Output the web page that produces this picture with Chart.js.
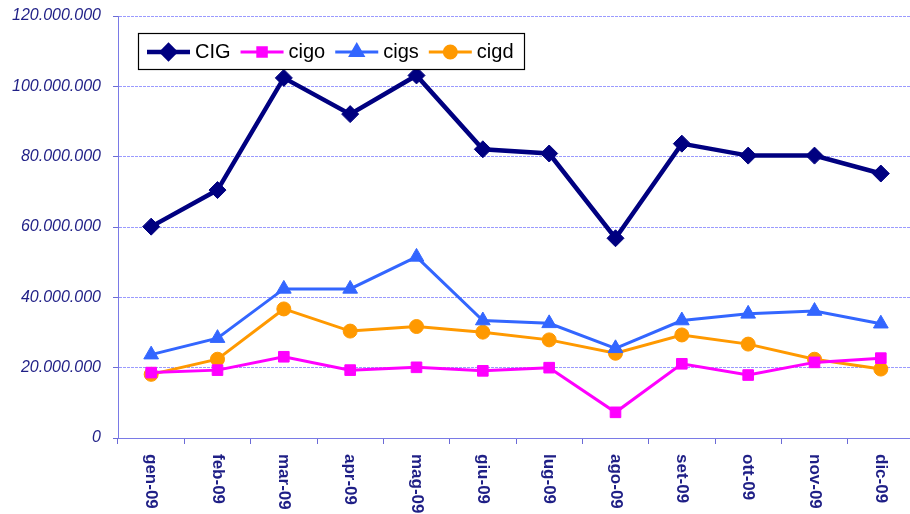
<!DOCTYPE html>
<html>
<head>
<meta charset="utf-8">
<script src="https://cdn.jsdelivr.net/npm/chart.js@4.4.1/dist/chart.umd.min.js"></script>
<style>
  html, body { margin: 0; padding: 0; background: #fff; overflow: hidden; }
  #wrap { position: relative; width: 914px; height: 514px; }
</style>
</head>
<body>
<div id="wrap"><canvas id="c" width="914" height="514"></canvas></div>
<script>
const categories = ['gen-09','feb-09','mar-09','apr-09','mag-09','giu-09','lug-09','ago-09','set-09','ott-09','nov-09','dic-09'];
const seriesNames = ['CIG','cigo','cigs','cigd'];
const CIG  = [60100000, 70500000, 102400000, 92100000, 103100000, 82100000, 80900000, 56800000, 83700000, 80300000, 80300000, 75200000];
const cigo = [18600000, 19300000, 23100000, 19300000, 20100000, 19100000, 20000000, 7300000, 21100000, 17900000, 21500000, 22700000];
const cigs = [23700000, 28400000, 42400000, 42400000, 51500000, 33400000, 32600000, 25500000, 33400000, 35300000, 36100000, 32500000];
const cigd = [18100000, 22400000, 36700000, 30400000, 31700000, 30100000, 27900000, 24100000, 29300000, 26700000, 22400000, 19600000];
const yTicks = [0, 20000000, 40000000, 60000000, 80000000, 100000000, 120000000];

const NAVY = '#1f1f86';
function fmt(v){ return String(v).replace(/\B(?=(\d{3})+(?!\d))/g, '.'); }

const legendPlugin = {
  id: 'boxLegend',
  afterDraw(chart) {
    const ctx = chart.ctx;
    const x0 = 138, y0 = 33, w = 386, h = 36;
    ctx.save();
    ctx.fillStyle = '#fff';
    ctx.fillRect(x0, y0, w, h);
    ctx.strokeStyle = '#000';
    ctx.lineWidth = 1.2;
    ctx.strokeRect(x0 + 0.5, y0 + 0.5, w, h);
    ctx.font = '20px "Liberation Sans", Arial, sans-serif';
    ctx.textBaseline = 'middle';
    const cy = y0 + h / 2 + 1;
    let x = x0 + 9;
    chart.data.datasets.forEach(ds => {
      ctx.strokeStyle = ds.borderColor;
      ctx.lineWidth = ds.borderWidth;
      ctx.beginPath();
      ctx.moveTo(x, cy);
      ctx.lineTo(x + 43, cy);
      ctx.stroke();
      ctx.fillStyle = ds.pointBackgroundColor;
      ctx.strokeStyle = ds.pointBorderColor;
      Chart.helpers.drawPoint(ctx, {pointStyle: ds.pointStyle, radius: ds.legendRadius, borderWidth: 1}, x + 21.5, cy);
      ctx.fillStyle = '#000';
      ctx.textAlign = 'left';
      ctx.fillText(ds.label, x + 48, cy);
      x += 48 + ctx.measureText(ds.label).width + 10;
    });
    ctx.restore();
  }
};

const xLabelPlugin = {
  id: 'xLabels',
  afterDraw(chart) {
    const ctx = chart.ctx;
    const sx = chart.scales.x;
    ctx.save();
    ctx.font = 'bold 17px "Liberation Sans", Arial, sans-serif';
    ctx.fillStyle = NAVY;
    ctx.textAlign = 'left';
    ctx.textBaseline = 'middle';
    categories.forEach((lab, i) => {
      const px = sx.getPixelForValue(i);
      ctx.save();
      ctx.translate(px, sx.top + 16);
      ctx.rotate(Math.PI / 2);
      ctx.fillText(lab, 0, 0);
      ctx.restore();
    });
    ctx.restore();
  }
};

function mk(label, data, color, style, radius, lw, legendRadius) {
  return {
    label, data,
    borderColor: color,
    backgroundColor: color,
    pointBackgroundColor: color,
    pointBorderColor: color,
    pointStyle: style,
    pointRadius: radius,
    pointHoverRadius: radius,
    pointBorderWidth: 1,
    borderWidth: lw,
    legendRadius,
    tension: 0,
    fill: false
  };
}

new Chart(document.getElementById('c'), {
  type: 'line',
  data: {
    labels: categories,
    datasets: [
      mk(seriesNames[0], CIG, '#000080', 'rectRot', 8.5, 4.5, 6.5),
      mk(seriesNames[1], cigo, '#ff00ff', 'rect', 7.5, 3, 6),
      mk(seriesNames[2], cigs, '#3366ff', 'triangle', 8.5, 3, 7),
      mk(seriesNames[3], cigd, '#ff9900', 'circle', 7, 3, 6)
    ]
  },
  options: {
    responsive: false,
    animation: false,
    devicePixelRatio: 1,
    layout: { autoPadding: false, padding: { top: 16, right: 0, left: 0, bottom: 0 } },
    plugins: { legend: { display: false }, tooltip: { enabled: false } },
    elements: { line: { borderJoinStyle: 'miter' } },
    scales: {
      x: {
        type: 'category',
        offset: true,
        grid: {
          offset: true,
          drawOnChartArea: false,
          drawTicks: true,
          tickLength: 6,
          color: '#6b6bd6',
          tickColor: '#6b6bd6'
        },
        border: { display: true, color: '#7a7ae6', width: 1, dash: [3, 1] },
        ticks: { display: false },
        afterFit(s) { s.height = 76; s.paddingLeft = 0; s.paddingRight = 0; }
      },
      y: {
        min: 0, max: 120000000,
        afterBuildTicks(s) { s.ticks = yTicks.map(v => ({ value: v })); },
        grid: {
          color: '#9a9aff',
          lineWidth: 1,
          tickLength: 5,
          tickColor: '#6b6bd6',
          drawTicks: true
        },
        border: { display: true, color: '#7a7ae6', width: 1, dash: [3, 1] },
        ticks: {
          padding: 12,
          color: NAVY,
          font: { family: '"Liberation Sans", Arial, sans-serif', size: 16, style: 'italic' },
          callback: v => fmt(v)
        },
        afterFit(s) { s.width = 118; s.paddingTop = 0; s.paddingBottom = 0; }
      }
    }
  },
  plugins: [xLabelPlugin, legendPlugin]
});
</script>
</body>
</html>
